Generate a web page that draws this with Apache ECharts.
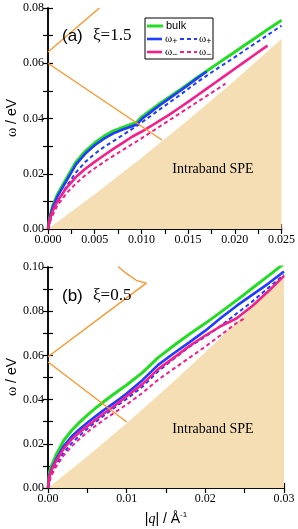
<!DOCTYPE html>
<html><head><meta charset="utf-8">
<script src="https://cdn.jsdelivr.net/npm/echarts@6/dist/echarts.min.js"></script>
<style>html,body{margin:0;padding:0;background:#fff}#c{width:298px;height:529px}</style>
</head><body><div id="c"></div>
<script>
// ---- Panel (a) xi = 1.5 ----
const qTop = [0, 0.0002, 0.0005, 0.001, 0.002, 0.003, 0.004, 0.005, 0.006, 0.007, 0.008, 0.009, 0.0095, 0.010, 0.011, 0.012, 0.013, 0.014, 0.015, 0.016, 0.017, 0.018, 0.019, 0.020, 0.021, 0.022, 0.023, 0.0235, 0.024, 0.025];
const bulkTop = [0, 0.0045, 0.0085, 0.0125, 0.0185, 0.0243, 0.0282, 0.0312, 0.0336, 0.0355, 0.0368, 0.0380, 0.0386, 0.0405, 0.0430, 0.0455, 0.0478, 0.0501, 0.0525, 0.0549, 0.0572, 0.0595, 0.0618, 0.0641, 0.0664, 0.0687, 0.0710, 0.0722, 0.0733, 0.0756];
const plusTop = [0, 0.0040, 0.0078, 0.0117, 0.0176, 0.0234, 0.0273, 0.0303, 0.0327, 0.0346, 0.0360, 0.0372, 0.0378, 0.0397, 0.0423, 0.0449, 0.0473, 0.0497, 0.0521, 0.0546, 0.0570, null, null, null, null, null, null, null, null, null];
const plusDashTop = [0, 0.0030, 0.0060, 0.0095, 0.0155, 0.0205, 0.0243, 0.0272, 0.0297, 0.0318, 0.0340, 0.0362, 0.0373, 0.0385, 0.0409, 0.0434, 0.0458, 0.0482, 0.0507, 0.0532, 0.0555, 0.0578, 0.0600, 0.0622, 0.0645, 0.0668, 0.0690, 0.0702, 0.0713, 0.0736];
const minusTop = [0, 0.0035, 0.0065, 0.0100, 0.0150, 0.0188, 0.0218, 0.0243, 0.0267, 0.0290, 0.0312, 0.0334, 0.0343, 0.0352, 0.0372, 0.0393, 0.0414, 0.0437, 0.0460, 0.0484, 0.0508, 0.0532, 0.0556, 0.0580, 0.0604, 0.0628, 0.0652, 0.0664, null, null];
const minusDashTop = [0, 0.0025, 0.0050, 0.0085, 0.0130, 0.0165, 0.0195, 0.0220, 0.0243, 0.0265, 0.0286, 0.0307, 0.0317, 0.0328, 0.0350, 0.0372, 0.0394, 0.0416, 0.0438, 0.0460, 0.0482, 0.0504, 0.0526, null, null, null, null, null, null, null];
const qFillTop = [0, 0.005, 0.010, 0.015, 0.020, 0.025];
const speTop = [0, 0.01255, 0.0257, 0.03945, 0.0538, 0.0688];
const qOrgTop1 = [0, 0.0055];
const wOrgTop1 = [0.0641, 0.080];
const qOrgTop2 = [0, 0.0122];
const wOrgTop2 = [0.060, 0.0322];
const xTicksTop = ['0.000', '0.005', '0.010', '0.015', '0.020', '0.025'];
const yTicksTop = ['0.00', '0.02', '0.04', '0.06', '0.08'];

// ---- Panel (b) xi = 0.5 ----
const qBot = [0, 0.0002, 0.0005, 0.001, 0.002, 0.003, 0.004, 0.005, 0.006, 0.007, 0.008, 0.009, 0.010, 0.012, 0.014, 0.016, 0.018, 0.020, 0.022, 0.024, 0.025, 0.026, 0.028, 0.030];
const bulkBot = [0, 0.0075, 0.0105, 0.0148, 0.0215, 0.0260, 0.0297, 0.0330, 0.0360, 0.0388, 0.0415, 0.0441, 0.0466, 0.0522, 0.0590, 0.0645, 0.0697, 0.0745, 0.0797, 0.0850, 0.0877, 0.0905, 0.0960, 0.1015];
const plusBot = [0, 0.0060, 0.0090, 0.0128, 0.0190, 0.0233, 0.0266, 0.0295, 0.0323, 0.0350, 0.0375, 0.0400, 0.0428, 0.0488, 0.0557, 0.0610, 0.0660, 0.0712, 0.0770, 0.0825, 0.0850, 0.0875, 0.0925, 0.0980];
const minusBot = [0, 0.0055, 0.0085, 0.0120, 0.0178, 0.0220, 0.0252, 0.0280, 0.0308, 0.0335, 0.0360, 0.0387, 0.0415, 0.0470, 0.0538, 0.0590, 0.0643, 0.0690, 0.0733, 0.0768, 0.0796, 0.0825, 0.0890, 0.0960];
const plusDashBot = [0, 0.0040, 0.0070, 0.0105, 0.0160, 0.0202, 0.0237, 0.0268, 0.0297, 0.0325, 0.0352, 0.0378, 0.0403, 0.0458, 0.0528, 0.0585, 0.0640, 0.0685, 0.0735, 0.0790, 0.0817, 0.0845, 0.0905, 0.0965];
const minusDashBot = [0, 0.0035, 0.0060, 0.0095, 0.0148, 0.0188, 0.0222, 0.0253, 0.0280, 0.0306, 0.0330, 0.0354, 0.0378, 0.0430, 0.0490, 0.0540, 0.0590, 0.0640, 0.0693, 0.0748, 0.0768, null, null, null];
const qFillBot = [0, 0.005, 0.010, 0.015, 0.020, 0.025, 0.030];
const speBot = [0, 0.01429, 0.02929, 0.04500, 0.06142, 0.07856, 0.09641];
const qOrgBot1 = [0, 0.0125, 0.0113, 0.0100, 0.0089];
const wOrgBot1 = [0.0594, 0.0927, 0.0938, 0.0970, 0.1002];
const qOrgBot2 = [0, 0.0100];
const wOrgBot2 = [0.0570, 0.0299];
const xTicksBot = ['0.00', '0.01', '0.02', '0.03'];
const yTicksBot = ['0.00', '0.02', '0.04', '0.06', '0.08', '0.10'];

const C_GREEN = '#22dd22', C_BLUE = '#1f3cff', C_PINK = '#f51e8c', C_ORANGE = '#ff9326', C_FILL = '#f5deb3';

function pairs(q, v) { const out = []; q.forEach((x, i) => { if (v[i] !== null && v[i] !== undefined) out.push([x, v[i]]); }); return out; }
function labelFmt(list, step) { return function (v) { const k = Math.round(v / step); return (k % 2 === 0) ? (list[k / 2] || '') : ''; }; }

const tickFont = { fontFamily: 'Liberation Serif', fontSize: 12, color: '#000' };
const axisLine = { show: true, lineStyle: { color: '#000', width: 1.5 } };
const tick = { show: true, inside: true, length: 5, lineStyle: { color: '#000', width: 1.2 } };

function xAx(grid, max, interval, list, pos, labels) {
  return { type: 'value', gridIndex: grid, min: 0, max: max, interval: interval, position: pos,
    axisLine: axisLine, axisTick: tick, splitLine: { show: false },
    axisLabel: labels ? Object.assign({ show: true, margin: 5, formatter: labelFmt(list, interval), showMaxLabel: true, showMinLabel: true }, tickFont) : { show: false } };
}
function yAx(grid, max, interval, list, pos, labels) {
  return { type: 'value', gridIndex: grid, min: 0, max: max, interval: interval, position: pos,
    axisLine: axisLine, axisTick: tick, splitLine: { show: false },
    axisLabel: labels ? Object.assign({ show: true, margin: 4, formatter: labelFmt(list, interval), showMaxLabel: true, showMinLabel: true }, tickFont) : { show: false } };
}
function line(name, xi, yi, data, color, width, dashed, z) {
  return { name: name, type: 'line', xAxisIndex: xi, yAxisIndex: yi, data: data, showSymbol: false, symbol: 'none', z: z || 3,
    lineStyle: { color: color, width: width, type: dashed ? [4, 3] : 'solid' }, clip: true, animation: false };
}
function fill(xi, yi, data) {
  return { type: 'line', xAxisIndex: xi, yAxisIndex: yi, data: data, showSymbol: false, symbol: 'none', z: 1,
    lineStyle: { width: 0 }, areaStyle: { color: C_FILL, opacity: 1 }, animation: false };
}

const chart = echarts.init(document.getElementById('c'), null, { renderer: 'canvas' });
const opt = {
  animation: false,
  backgroundColor: '#fff',
  grid: [
    { left: 48, top: 8, width: 236, height: 221 },
    { left: 48, top: 267, width: 236, height: 221 }
  ],
  xAxis: [
    xAx(0, 0.025, 0.0025, xTicksTop, 'bottom', true),
    xAx(0, 0.025, 0.0025, xTicksTop, 'top', false),
    xAx(1, 0.03, 0.005, xTicksBot, 'bottom', true),
    xAx(1, 0.03, 0.005, xTicksBot, 'top', false)
  ],
  yAxis: [
    yAx(0, 0.08, 0.01, yTicksTop, 'left', true),
    yAx(0, 0.08, 0.01, yTicksTop, 'right', false),
    yAx(1, 0.10, 0.01, yTicksBot, 'left', true),
    yAx(1, 0.10, 0.01, yTicksBot, 'right', false)
  ],
  series: [
    fill(0, 0, pairs(qFillTop, speTop)),
    line('bulk', 0, 0, pairs(qTop, bulkTop), C_GREEN, 3, false, 3),
    line('ω+', 0, 0, pairs(qTop, plusTop), C_BLUE, 2.6, false, 4),
    line('ω+ dashed', 0, 0, pairs(qTop, plusDashTop), C_BLUE, 2, true, 4),
    line('ω−', 0, 0, pairs(qTop, minusTop), C_PINK, 2.6, false, 4),
    line('ω− dashed', 0, 0, pairs(qTop, minusDashTop), C_PINK, 2, true, 4),
    line('orange1', 0, 0, pairs(qOrgTop1, wOrgTop1), C_ORANGE, 1.3, false, 5),
    line('orange2', 0, 0, pairs(qOrgTop2, wOrgTop2), C_ORANGE, 1.3, false, 5),

    fill(2, 2, pairs(qFillBot, speBot)),
    line('bulk', 2, 2, pairs(qBot, bulkBot), C_GREEN, 3, false, 3),
    line('ω+', 2, 2, pairs(qBot, plusBot), C_BLUE, 2.6, false, 4),
    line('ω+ dashed', 2, 2, pairs(qBot, plusDashBot), C_BLUE, 2, true, 4),
    line('ω−', 2, 2, pairs(qBot, minusBot), C_PINK, 2.6, false, 4),
    line('ω− dashed', 2, 2, pairs(qBot, minusDashBot), C_PINK, 2, true, 4),
    line('orange1', 2, 2, pairs(qOrgBot1, wOrgBot1), C_ORANGE, 1.3, false, 5),
    line('orange2', 2, 2, pairs(qOrgBot2, wOrgBot2), C_ORANGE, 1.3, false, 5)
  ],
  graphic: [
    { type: 'text', x: 62, y: 36, z: 10, style: { text: '(a)', font: '17px "Liberation Sans"', fill: '#000', verticalAlign: 'middle' } },
    { type: 'text', x: 93, y: 36, z: 10, style: { text: 'ξ=1.5', font: '17px "Liberation Serif"', fill: '#000', verticalAlign: 'middle' } },
    { type: 'text', x: 62, y: 296, z: 10, style: { text: '(b)', font: '17px "Liberation Sans"', fill: '#000', verticalAlign: 'middle' } },
    { type: 'text', x: 93, y: 296, z: 10, style: { text: 'ξ=0.5', font: '17px "Liberation Serif"', fill: '#000', verticalAlign: 'middle' } },
    { type: 'text', x: 213, y: 169, z: 10, style: { text: 'Intraband SPE', font: '14px "Liberation Serif"', fill: '#000', align: 'center', verticalAlign: 'middle' } },
    { type: 'text', x: 213, y: 429, z: 10, style: { text: 'Intraband SPE', font: '14px "Liberation Serif"', fill: '#000', align: 'center', verticalAlign: 'middle' } },
    // y-axis titles
    { type: 'text', x: 12, y: 118, rotation: Math.PI / 2, z: 10, style: { text: '{g|ω}{n| / eV}', align: 'center', verticalAlign: 'middle',
      rich: { g: { font: '14px "Liberation Serif"', fill: '#000' }, n: { font: '14px "Liberation Sans"', fill: '#000' } } } },
    { type: 'text', x: 12, y: 377, rotation: Math.PI / 2, z: 10, style: { text: '{g|ω}{n| / eV}', align: 'center', verticalAlign: 'middle',
      rich: { g: { font: '14px "Liberation Serif"', fill: '#000' }, n: { font: '14px "Liberation Sans"', fill: '#000' } } } },
    // x-axis title
    { type: 'text', x: 166, y: 519, z: 10, style: { text: '{n||}{i|q}{n|| / Å}{s|-1}', align: 'center', verticalAlign: 'middle',
      rich: { n: { font: '14px "Liberation Sans"', fill: '#000' }, i: { font: 'italic 14px "Liberation Serif"', fill: '#000' }, s: { font: '8px "Liberation Sans"', fill: '#000', verticalAlign: 'top', padding: [0, 0, 8, 0] } } } },
    // legend
    { type: 'rect', z: 10, shape: { x: 145, y: 18, width: 68, height: 41 }, style: { fill: '#fff', stroke: '#000', lineWidth: 1 } },
    { type: 'line', z: 11, shape: { x1: 147, y1: 26, x2: 163, y2: 26 }, style: { stroke: C_GREEN, lineWidth: 3 } },
    { type: 'text', z: 11, x: 166, y: 26, style: { text: 'bulk', font: '11px "Liberation Sans"', fill: '#000', verticalAlign: 'middle' } },
    { type: 'line', z: 11, shape: { x1: 147, y1: 39, x2: 162, y2: 39 }, style: { stroke: C_BLUE, lineWidth: 2.6 } },
    { type: 'text', z: 11, x: 165, y: 39, style: { text: '{a|ω}{s|+}', verticalAlign: 'middle', rich: { a: { font: '11px "Liberation Serif"', fill: '#000' }, s: { font: '9px "Liberation Sans"', fill: '#000', padding: [6, 0, 0, 0] } } } },
    { type: 'line', z: 11, shape: { x1: 180, y1: 39, x2: 197, y2: 39 }, style: { stroke: C_BLUE, lineWidth: 2, lineDash: [4, 3] } },
    { type: 'text', z: 11, x: 199, y: 39, style: { text: '{a|ω}{s|+}', verticalAlign: 'middle', rich: { a: { font: '11px "Liberation Serif"', fill: '#000' }, s: { font: '9px "Liberation Sans"', fill: '#000', padding: [6, 0, 0, 0] } } } },
    { type: 'line', z: 11, shape: { x1: 147, y1: 52, x2: 162, y2: 52 }, style: { stroke: C_PINK, lineWidth: 2.6 } },
    { type: 'text', z: 11, x: 165, y: 52, style: { text: '{a|ω}{s|−}', verticalAlign: 'middle', rich: { a: { font: '11px "Liberation Serif"', fill: '#000' }, s: { font: '9px "Liberation Sans"', fill: '#000', padding: [6, 0, 0, 0] } } } },
    { type: 'line', z: 11, shape: { x1: 180, y1: 52, x2: 197, y2: 52 }, style: { stroke: C_PINK, lineWidth: 2, lineDash: [4, 3] } },
    { type: 'text', z: 11, x: 199, y: 52, style: { text: '{a|ω}{s|−}', verticalAlign: 'middle', rich: { a: { font: '11px "Liberation Serif"', fill: '#000' }, s: { font: '9px "Liberation Sans"', fill: '#000', padding: [6, 0, 0, 0] } } } }
  ]
};
chart.setOption(opt);
</script>
</body></html>
